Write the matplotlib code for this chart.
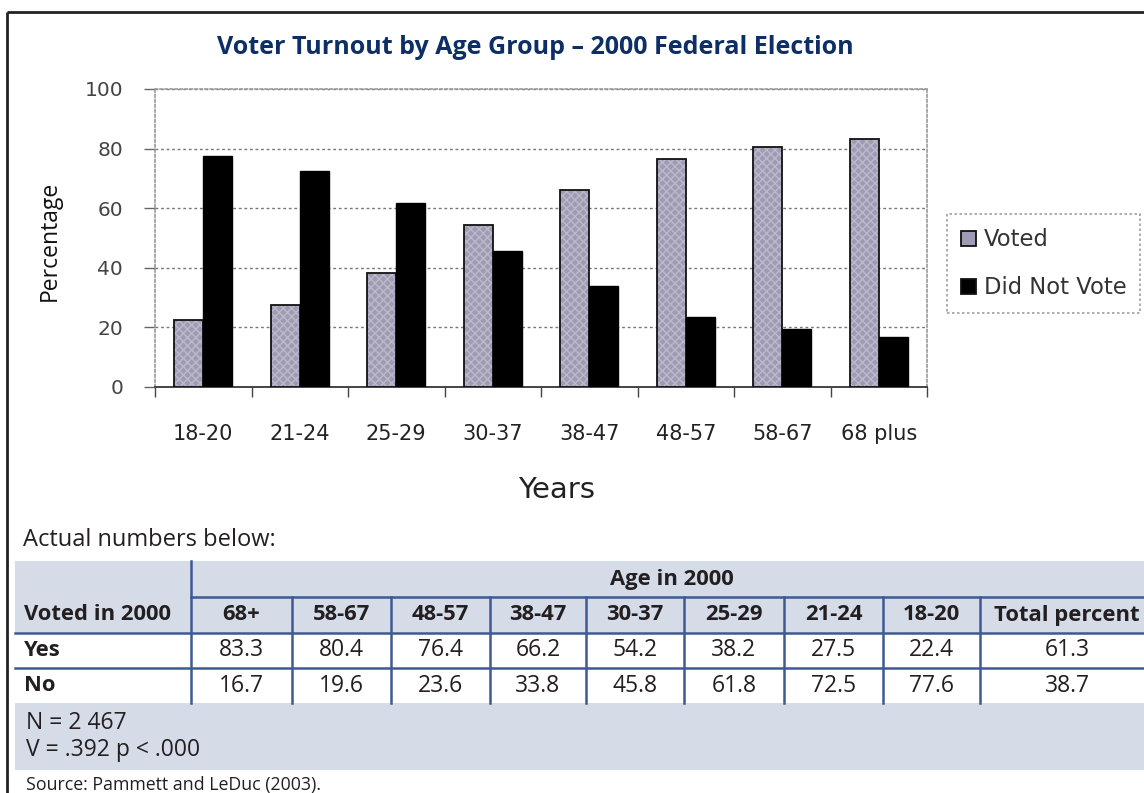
import matplotlib
matplotlib.use('Agg')
import matplotlib.pyplot as plt
import numpy as np
from matplotlib.patches import Rectangle

W, H = 1144, 793

# chart data (chart order, youngest first)
age_groups = ['18-20', '21-24', '25-29', '30-37', '38-47', '48-57', '58-67', '68 plus']
voted = [22.4, 27.5, 38.2, 54.2, 66.2, 76.4, 80.4, 83.3]
not_voted = [77.6, 72.5, 61.8, 45.8, 33.8, 23.6, 19.6, 16.7]
y_ticks = [0, 20, 40, 60, 80, 100]

# table data (table order, oldest first)
table_cols = ['68+', '58-67', '48-57', '38-47', '30-37', '25-29', '21-24', '18-20', 'Total percent']
table_yes = ['83.3', '80.4', '76.4', '66.2', '54.2', '38.2', '27.5', '22.4', '61.3']
table_no = ['16.7', '19.6', '23.6', '33.8', '45.8', '61.8', '72.5', '77.6', '38.7']

TITLE = 'Voter Turnout by Age Group \u2013 2000 Federal Election'
NAVY = '#0d2f66'
BAND = '#d5dce8'
LINE_BLUE = '#3d5a94'
TXT = '#231f20'
TFONT = 'Open Sans'
FS_REG = 16.5
FS_BOLD = 15.8

fig = plt.figure(figsize=(W / 100, H / 100), dpi=100)

# overlay in pixel coordinates for frame, titles and table
ov = fig.add_axes([0, 0, 1, 1])
ov.set_xlim(0, W)
ov.set_ylim(H, 0)
ov.axis('off')
ov.set_zorder(0)

# outer frame
ov.plot([7, W], [12, 12], color='#222', lw=2, solid_capstyle='butt')
ov.plot([7, 7], [12, H], color='#222', lw=2, solid_capstyle='butt')

ov.text(535, 47, TITLE, ha='center', va='center', fontsize=18,
        fontweight='bold', color=NAVY, family=TFONT)

# ---- chart ----
left, right, top, bottom = 155, 927, 89, 387
ax = fig.add_axes([left / W, 1 - bottom / H, (right - left) / W, (bottom - top) / H])
ax.set_zorder(1)

x = np.arange(len(age_groups))
bw = 0.3
ax.bar(x - bw / 2, voted, bw, color='#9e9bb5', edgecolor='#bdb9cb', lw=0,
       hatch='xxxx', zorder=3)
ax.bar(x - bw / 2, voted, bw, fill=False, edgecolor='#111', lw=1.3, zorder=4)
ax.bar(x + bw / 2, not_voted, bw, color='black', edgecolor='black', lw=1, zorder=4)

ax.set_xlim(-0.5, len(age_groups) - 0.5)
ax.set_ylim(0, 100)
ax.set_yticks(y_ticks)
ax.set_yticklabels([str(v) for v in y_ticks], fontsize=14.5, color='#444')
ax.tick_params(axis='y', length=8, width=1, color='#666', pad=15)

ax.set_xticks(np.arange(len(age_groups) + 1) - 0.5)
ax.set_xticklabels([])
ax.set_xticks(x, minor=True)
ax.set_xticklabels(age_groups, minor=True, fontsize=15, color='#222')
ax.tick_params(axis='x', which='major', length=7, width=1, color='#444', direction='out')
ax.tick_params(axis='x', which='minor', length=0, pad=27)

ax.grid(axis='y', color='#777', lw=1, ls=(0, (2, 2)), zorder=0)
for side in ['top', 'right', 'left']:
    ax.spines[side].set_color('#999')
    ax.spines[side].set_linestyle((0, (1.5, 1.5)))
    ax.spines[side].set_linewidth(1.2)
ax.spines['bottom'].set_color('#444')
ax.spines['bottom'].set_linewidth(1.4)

ov.text(50, 241, 'Percentage', rotation=90, ha='center', va='center',
        fontsize=16.5, color='#111', family=TFONT)
ov.text(557, 490, 'Years', ha='center', va='center', fontsize=21, color='#222')

leg = fig.legend(handles=ax.containers[1:], labels=['Voted', 'Did Not Vote'],
                 loc='upper left', bbox_to_anchor=(947 / W, 1 - 214 / H),
                 fontsize=16.3, frameon=True, fancybox=False,
                 handlelength=0.65, handleheight=0.65, handletextpad=0.35,
                 borderpad=0.62, labelspacing=1.12, borderaxespad=0)
leg.get_frame().set_edgecolor('#888')
leg.get_frame().set_linestyle((0, (1.5, 1.5)))
leg.get_frame().set_linewidth(1.2)
for h in leg.legend_handles:
    h.set_edgecolor('#111')
    h.set_linewidth(1.3)
leg.legend_handles[0].set_facecolor('#9e9bb5')
leg.legend_handles[0].set_fill(True)
for t in leg.get_texts():
    t.set_color('#333')

# ---- table ----
ov.text(23, 540, 'Actual numbers below:', ha='left', va='center', fontsize=17,
        color=TXT, family=TFONT)

col_edges = [191, 292, 391, 490, 586, 684, 784, 883, 980, 1178]
y_band_top, y_h1, y_h2, y_yes, y_no, y_band_bot = 561, 597, 633, 668, 703, 770
x0 = 15

ov.add_patch(Rectangle((x0, y_band_top), W - x0, y_band_bot - y_band_top,
                       facecolor=BAND, edgecolor='none'))
ov.add_patch(Rectangle((x0, y_h2), W - x0, y_no - y_h2, facecolor='white',
                       edgecolor='none'))

lw_t = 1.8
ov.plot([col_edges[0], W], [y_h1, y_h1], color=LINE_BLUE, lw=lw_t)
ov.plot([x0, W], [y_h2, y_h2], color=LINE_BLUE, lw=lw_t)
ov.plot([x0, W], [y_yes, y_yes], color=LINE_BLUE, lw=lw_t)
ov.plot([col_edges[0], col_edges[0]], [y_band_top, y_no], color=LINE_BLUE, lw=lw_t)
for xe in col_edges[1:-1]:
    ov.plot([xe, xe], [y_h1, y_no], color=LINE_BLUE, lw=lw_t)

ov.text(672, (y_band_top + y_h1) / 2, 'Age in 2000', ha='center', va='center',
        fontsize=FS_BOLD, fontweight='bold', color=TXT, family=TFONT)
ov.text(24, (y_h1 + y_h2) / 2, 'Voted in 2000', ha='left', va='center',
        fontsize=FS_BOLD, fontweight='bold', color=TXT, family=TFONT)
ov.text(24, (y_h2 + y_yes) / 2, 'Yes', ha='left', va='center',
        fontsize=FS_BOLD, fontweight='bold', color=TXT, family=TFONT)
ov.text(24, (y_yes + y_no) / 2, 'No', ha='left', va='center',
        fontsize=FS_BOLD, fontweight='bold', color=TXT, family=TFONT)

for i, name in enumerate(table_cols):
    cx = (col_edges[i] + col_edges[i + 1]) / 2
    if name == 'Total percent':
        cx = 1067
    ov.text(cx, (y_h1 + y_h2) / 2, name, ha='center', va='center', fontsize=FS_BOLD,
            fontweight='bold', color=TXT, family=TFONT)
    ov.text(cx, (y_h2 + y_yes) / 2, table_yes[i], ha='center', va='center',
            fontsize=FS_REG, color=TXT, family=TFONT)
    ov.text(cx, (y_yes + y_no) / 2, table_no[i], ha='center', va='center',
            fontsize=FS_REG, color=TXT, family=TFONT)

ov.text(26, 723, 'N = 2 467', ha='left', va='center', fontsize=FS_REG, color=TXT, family=TFONT)
ov.text(26, 750, 'V = .392 p < .000', ha='left', va='center', fontsize=FS_REG, color=TXT, family=TFONT)
ov.text(26, 785, 'Source: Pammett and LeDuc (2003).', ha='left', va='center',
        fontsize=12.8, color=TXT, family=TFONT)

fig.savefig('out.png', dpi=100)
